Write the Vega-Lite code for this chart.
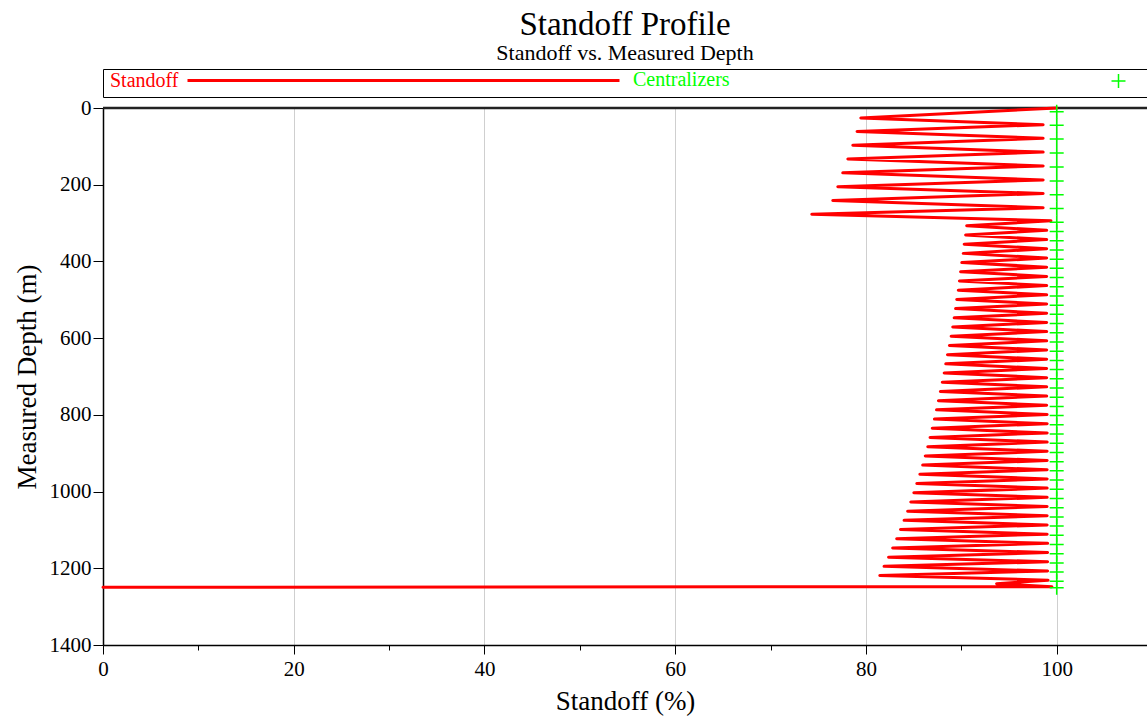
{
  "$schema": "https://vega.github.io/schema/vega-lite/v6.json",
  "width": 1044,
  "height": 537,
  "autosize": {"type": "none"},
  "padding": {"left": 103, "top": 108, "right": 0, "bottom": 79},
  "background": "white",
  "config": {"font": "Liberation Serif", "view": {"stroke": null}},
  "title": {
    "text": "Standoff Profile",
    "subtitle": "Standoff vs. Measured Depth",
    "fontSize": 33,
    "subtitleFontSize": 22,
    "font": "Liberation Serif",
    "subtitleFont": "Liberation Serif",
    "fontWeight": "normal",
    "color": "black",
    "subtitleColor": "black",
    "subtitlePadding": 1,
    "anchor": "middle",
    "offset": 5
  },
  "layer": [
    {
      "data": {"values": [{}]},
      "mark": {"type": "rule", "color": "#222222", "strokeWidth": 2.5},
      "encoding": {"y": {"datum": 0, "type": "quantitative", "scale": {"domain": [0, 1400], "reverse": true, "nice": false}}}
    },
    {
      "data": {"values": [
        {"s": 100, "d": 0}, {"s": 79.46, "d": 26}, {"s": 98.58, "d": 43.5}, {"s": 79.07, "d": 61}, {"s": 98.58, "d": 79},
        {"s": 78.62, "d": 97}, {"s": 98.58, "d": 115}, {"s": 78.1, "d": 133}, {"s": 98.58, "d": 151}, {"s": 77.57, "d": 169},
        {"s": 98.58, "d": 187.5}, {"s": 77.05, "d": 205}, {"s": 98.58, "d": 223}, {"s": 76.52, "d": 241}, {"s": 98.58, "d": 260},
        {"s": 74.32, "d": 277}, {"s": 99.4, "d": 294},
        {"s": 90.56, "d": 307}, {"s": 98.95, "d": 319},
        {"s": 90.45, "d": 331}, {"s": 98.95, "d": 343},
        {"s": 90.3, "d": 355}, {"s": 98.95, "d": 367},
        {"s": 90.2, "d": 379}, {"s": 98.95, "d": 391},
        {"s": 90.05, "d": 403}, {"s": 98.95, "d": 415},
        {"s": 89.92, "d": 427}, {"s": 98.95, "d": 439},
        {"s": 89.8, "d": 451}, {"s": 98.95, "d": 463},
        {"s": 89.68, "d": 475}, {"s": 98.95, "d": 487},
        {"s": 89.52, "d": 499}, {"s": 98.95, "d": 511},
        {"s": 89.4, "d": 523}, {"s": 98.95, "d": 535},
        {"s": 89.25, "d": 547}, {"s": 98.95, "d": 559},
        {"s": 89.1, "d": 571}, {"s": 98.95, "d": 583},
        {"s": 88.93, "d": 595}, {"s": 98.95, "d": 607},
        {"s": 88.75, "d": 619}, {"s": 98.95, "d": 631},
        {"s": 88.55, "d": 643}, {"s": 98.95, "d": 655},
        {"s": 88.37, "d": 667}, {"s": 98.95, "d": 679},
        {"s": 88.2, "d": 691}, {"s": 98.95, "d": 703},
        {"s": 88.0, "d": 715}, {"s": 98.95, "d": 727},
        {"s": 87.8, "d": 739}, {"s": 98.95, "d": 751},
        {"s": 87.6, "d": 763}, {"s": 98.95, "d": 775},
        {"s": 87.4, "d": 787}, {"s": 99.0, "d": 799},
        {"s": 87.18, "d": 811}, {"s": 99.0, "d": 823},
        {"s": 86.95, "d": 835}, {"s": 99.0, "d": 847},
        {"s": 86.72, "d": 859}, {"s": 99.0, "d": 871},
        {"s": 86.48, "d": 883}, {"s": 99.0, "d": 895},
        {"s": 86.22, "d": 907}, {"s": 99.0, "d": 919},
        {"s": 85.95, "d": 931}, {"s": 99.0, "d": 943},
        {"s": 85.65, "d": 955}, {"s": 99.0, "d": 967},
        {"s": 85.33, "d": 979}, {"s": 99.0, "d": 991},
        {"s": 85.02, "d": 1003}, {"s": 99.0, "d": 1015},
        {"s": 84.7, "d": 1027}, {"s": 99.0, "d": 1039},
        {"s": 84.37, "d": 1051}, {"s": 99.0, "d": 1063},
        {"s": 84.0, "d": 1075}, {"s": 99.0, "d": 1087},
        {"s": 83.62, "d": 1099}, {"s": 99.0, "d": 1111},
        {"s": 83.22, "d": 1123}, {"s": 99.05, "d": 1135},
        {"s": 82.8, "d": 1147}, {"s": 99.05, "d": 1159},
        {"s": 82.37, "d": 1171}, {"s": 99.05, "d": 1183},
        {"s": 81.9, "d": 1195}, {"s": 99.05, "d": 1207},
        {"s": 81.45, "d": 1219}, {"s": 99.1, "d": 1231},
        {"s": 93.7, "d": 1240}, {"s": 99.5, "d": 1248},
        {"s": 0, "d": 1249.5}
      ]},
      "mark": {"type": "line", "strokeWidth": 3, "strokeJoin": "round", "strokeCap": "round"},
      "encoding": {
        "x": {
          "field": "s", "type": "quantitative",
          "scale": {"domain": [0, 109.47], "nice": false, "zero": false},
          "axis": {
            "title": "Standoff (%)",
            "values": [0, 10, 20, 30, 40, 50, 60, 70, 80, 90, 100],
            "labelExpr": "datum.value % 20 === 0 ? datum.label : ''",
            "labelFlush": false,
            "labelOverlap": false,
            "tickSize": {"condition": {"test": "datum.value % 20 === 0", "value": 9}, "value": 5},
            "gridOpacity": {"condition": {"test": "datum.value % 20 === 0", "value": 1}, "value": 0},
            "gridColor": "#cfcfcf",
            "domainColor": "black",
            "domainWidth": 1.5,
            "tickColor": "black",
            "labelColor": "black",
            "labelFont": "Liberation Serif",
            "labelFontSize": 21,
            "labelPadding": 4,
            "titleFont": "Liberation Serif",
            "titleFontSize": 27,
            "titleFontWeight": "normal",
            "titleColor": "black",
            "titlePadding": 9
          }
        },
        "y": {
          "field": "d", "type": "quantitative",
          "scale": {"domain": [0, 1400], "reverse": true, "nice": false},
          "axis": {
            "title": "Measured Depth (m)",
            "values": [0, 100, 200, 300, 400, 500, 600, 700, 800, 900, 1000, 1100, 1200, 1300, 1400],
            "labelExpr": "datum.value % 200 === 0 ? datum.label : ''",
            "labelOverlap": false,
            "format": "d",
            "tickSize": {"condition": {"test": "datum.value % 200 === 0", "value": 10}, "value": 6},
            "gridOpacity": {"condition": {"test": "datum.value % 200 === 0", "value": 1}, "value": 0},
            "gridColor": "#cfcfcf",
            "domainColor": "black",
            "domainWidth": 1.5,
            "tickColor": "black",
            "labelColor": "black",
            "labelFont": "Liberation Serif",
            "labelFontSize": 21,
            "labelPadding": 2,
            "titleFont": "Liberation Serif",
            "titleFontSize": 27,
            "titleFontWeight": "normal",
            "titleColor": "black",
            "titlePadding": 8
          }
        },
        "order": {"field": "d", "type": "quantitative"},
        "color": {
          "datum": "Standoff", "type": "nominal",
          "scale": {"domain": ["Standoff", "Centralizers"], "range": ["#ff0000", "#00ff00"]},
          "legend": {
            "title": null,
            "orient": "none",
            "legendX": 0,
            "legendY": -39,
            "direction": "horizontal",
            "padding": 6,
            "strokeColor": "black",
            "fillColor": "white",
            "labelFont": "Liberation Serif",
            "labelFontSize": 20,
            "symbolSize": 4,
            "labelOffset": -19,
            "columnPadding": 6,
            "encode": {
              "symbols": {"update": {
                "shape": {"signal": "datum.value === 'Standoff' ? 'M68.5,-5H500.5' : 'M469.5,-4H483.5M476.5,-11V3M560,0'"},
                "stroke": {"signal": "datum.value === 'Standoff' ? '#ff0000' : '#00ff00'"},
                "strokeWidth": {"signal": "datum.value === 'Standoff' ? 3 : 1.5"},
                "fill": {"value": "transparent"},
                "opacity": {"value": 1}
              }},
              "labels": {"update": {
                "fill": {"signal": "datum.value === 'Standoff' ? '#ff0000' : '#00ff00'"},
                "font": {"value": "Liberation Serif"},
                "dy": {"value": -5}
              }}
            }
          }
        }
      }
    },
    {
      "data": {"values": [
        {"s": 100, "d": 10}, {"s": 100, "d": 45}, {"s": 100, "d": 81}, {"s": 100, "d": 117}, {"s": 100, "d": 154},
        {"s": 100, "d": 190}, {"s": 100, "d": 226}, {"s": 100, "d": 262}, {"s": 100, "d": 298}, {"s": 100, "d": 322},
        {"s": 100, "d": 346}, {"s": 100, "d": 370}, {"s": 100, "d": 394}, {"s": 100, "d": 418}, {"s": 100, "d": 442},
        {"s": 100, "d": 466}, {"s": 100, "d": 490}, {"s": 100, "d": 514}, {"s": 100, "d": 538}, {"s": 100, "d": 562},
        {"s": 100, "d": 586}, {"s": 100, "d": 610}, {"s": 100, "d": 634}, {"s": 100, "d": 658}, {"s": 100, "d": 682},
        {"s": 100, "d": 706}, {"s": 100, "d": 730}, {"s": 100, "d": 754}, {"s": 100, "d": 778}, {"s": 100, "d": 802},
        {"s": 100, "d": 826}, {"s": 100, "d": 850}, {"s": 100, "d": 874}, {"s": 100, "d": 898}, {"s": 100, "d": 922},
        {"s": 100, "d": 946}, {"s": 100, "d": 970}, {"s": 100, "d": 994}, {"s": 100, "d": 1018}, {"s": 100, "d": 1042},
        {"s": 100, "d": 1066}, {"s": 100, "d": 1090}, {"s": 100, "d": 1114}, {"s": 100, "d": 1138}, {"s": 100, "d": 1162},
        {"s": 100, "d": 1186}, {"s": 100, "d": 1210}, {"s": 100, "d": 1234}, {"s": 100, "d": 1251}
      ]},
      "mark": {"type": "point", "shape": "M-1,0H1M0,-1V1", "size": 196, "filled": false, "strokeWidth": 1.5, "opacity": 1},
      "encoding": {
        "x": {"field": "s", "type": "quantitative"},
        "y": {"field": "d", "type": "quantitative"},
        "color": {
          "datum": "Centralizers", "type": "nominal"
        }
      }
    }
  ]
}
